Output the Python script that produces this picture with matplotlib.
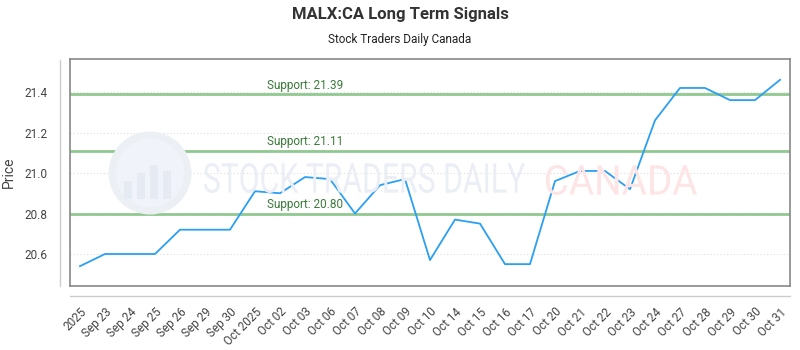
import matplotlib
matplotlib.use("Agg")
import matplotlib.pyplot as plt
from matplotlib.lines import Line2D
from matplotlib.patches import Ellipse, PathPatch, Rectangle
from matplotlib.textpath import TextPath
from matplotlib.font_manager import FontProperties
from matplotlib.transforms import Affine2D

plt.rcParams['font.family'] = ['Roboto', 'DejaVu Sans']

# data
dates = ["2025", "Sep 23", "Sep 24", "Sep 25", "Sep 26", "Sep 29", "Sep 30",
         "Oct 2025", "Oct 02", "Oct 03", "Oct 06", "Oct 07", "Oct 08", "Oct 09",
         "Oct 10", "Oct 14", "Oct 15", "Oct 16", "Oct 17", "Oct 20", "Oct 21",
         "Oct 22", "Oct 23", "Oct 24", "Oct 27", "Oct 28", "Oct 29", "Oct 30",
         "Oct 31"]
prices = [20.54, 20.60, 20.60, 20.60, 20.72, 20.72, 20.72, 20.91, 20.90, 20.98,
          20.97, 20.80, 20.94, 20.97, 20.57, 20.77, 20.75, 20.55, 20.55, 20.96,
          21.01, 21.01, 20.92, 21.26, 21.42, 21.42, 21.36, 21.36, 21.46]
supports = [21.39, 21.11, 20.80]
y_ticks = [20.6, 20.8, 21.0, 21.2, 21.4]

W, H = 800, 350
fig = plt.figure(figsize=(8, 3.5), dpi=100)
ax = fig.add_axes([70 / W, 1 - 286 / H, 720 / W, 227 / H])


def stretched_text(s, x0, x1, ycen, cap, color):
    # draw text squeezed into a pixel box (watermark font is condensed)
    tp = TextPath((0, 0), s, size=1, prop=FontProperties(family="Roboto"))
    bb = tp.get_extents()
    sx = (x1 - x0) / bb.width
    sy = cap / bb.height
    tr = (Affine2D().translate(-bb.x0, -bb.y0).scale(sx, sy)
          .translate(x0, H - ycen - cap / 2).scale(1 / W, 1 / H) + fig.transFigure)
    fig.add_artist(PathPatch(tp, transform=tr, facecolor=color, edgecolor="none",
                             zorder=0.5))


# watermark logo
cx, cy, r = 150, 173, 38
fig.add_artist(Ellipse((cx / W, 1 - cy / H), 2 * r / W, 2 * r / H,
                       transform=fig.transFigure, facecolor="#f0f3f9",
                       edgecolor="#eceff4", lw=5, zorder=0.5))
for i, bh in enumerate([18, 26, 34, 28]):
    fig.add_artist(Rectangle(((cx - 26 + i * 13) / W, 1 - (cy + 26) / H),
                             8 / W, bh / H, transform=fig.transFigure,
                             facecolor="#e6eaf2", edgecolor="none", zorder=0.5))
stretched_text("STOCK TRADERS DAILY", 204, 525, 178, 30, "#ebeef5")
stretched_text("CANADA", 546, 697, 180, 30, "#fde5e5")

for s in supports:
    ax.axhline(s, color="#90c990", lw=2, zorder=2)
    ax.text(9.0, s + 0.012, f"Support: {s:.2f}", color="#3a7a3a", fontsize=8.5,
            ha="center", va="bottom", zorder=3)

x = list(range(len(prices)))
ax.plot(x, prices, color="#2b9ff3", lw=1.3, zorder=4)

ax.set_xlim(-0.4, len(prices) - 0.6)
ax.set_ylim(20.442, 21.563)
ax.set_yticks(y_ticks)
ax.set_yticklabels([f"{v:.1f}" for v in y_ticks])
ax.set_xticks(x)
ax.set_xticklabels(dates, rotation=45, ha="right", rotation_mode="anchor")
ax.tick_params(axis="both", length=0, colors="#444444", labelsize=8.5)
ax.tick_params(axis="x", pad=14)
ax.tick_params(axis="y", pad=16)
ax.yaxis.grid(True, linestyle=(0, (1, 2)), color="#dddddd", lw=0.8)
ax.set_axisbelow(True)
ax.patch.set_alpha(0)
ax.set_ylabel("Price", fontsize=10, color="#444444", labelpad=6)

for sp in ax.spines.values():
    sp.set_color("#888888")
    sp.set_linewidth(1.2)

# outer axis lines
fig.add_artist(Line2D([60 / W, 60 / W], [1 - 60 / H, 1 - 286 / H],
                      color="#cccccc", lw=1))
fig.add_artist(Line2D([70 / W, 790 / W], [1 - 296 / H, 1 - 296 / H],
                      color="#cccccc", lw=1))

fig.text(0.5, 1 - 15 / H, "MALX:CA Long Term Signals", ha="center", va="center",
         fontsize=12, fontweight="bold", color="#333333")
fig.text(0.5, 1 - 40 / H, "Stock Traders Daily Canada", ha="center", va="center",
         fontsize=8.5, color="#222222")

fig.savefig("out.png", dpi=100)
